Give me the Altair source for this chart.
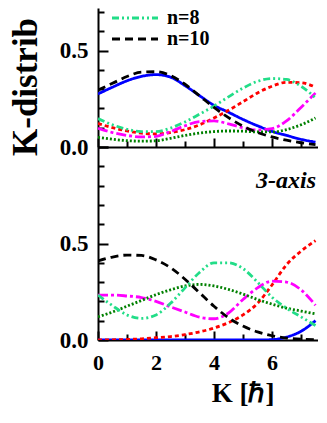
import altair as alt
import pandas as pd

# ---------------- data ----------------
K = [0, 0.5, 1, 1.5, 2, 2.5, 3, 3.5, 4, 4.5, 5, 5.5, 6, 6.5, 7, 7.5, 8]

series_names = ["n=0", "n=2", "n=4", "n=6", "n=8", "n=10"]
series_colors = ["#0000FF", "#FF0000", "#FF00FF", "#008000", "#22DD88", "#000000"]
series_dashes = [[1, 0], [4, 3], [10, 3, 3, 3], [2, 2], [7, 3, 2, 3, 2, 3], [8, 5]]
legend_shown = ["n=8", "n=10"]

# upper panel
top_n0 = [0.275, 0.31, 0.343, 0.366, 0.375, 0.362, 0.318, 0.266, 0.216, 0.18, 0.143, 0.11, 0.081, 0.06, 0.04, 0.025, 0.013]
top_n2 = [0.122, 0.1, 0.083, 0.072, 0.068, 0.075, 0.09, 0.115, 0.15, 0.19, 0.235, 0.28, 0.315, 0.335, 0.333, 0.31, 0.27]
top_n4 = [0.097, 0.075, 0.06, 0.052, 0.055, 0.08, 0.11, 0.132, 0.135, 0.12, 0.1, 0.088, 0.095, 0.135, 0.205, 0.28, 0.33]
top_n6 = [0.05, 0.04, 0.033, 0.03, 0.032, 0.045, 0.06, 0.072, 0.08, 0.083, 0.082, 0.078, 0.078, 0.09, 0.115, 0.15, 0.2]
top_n8 = [0.147, 0.115, 0.092, 0.08, 0.08, 0.098, 0.13, 0.17, 0.212, 0.26, 0.305, 0.34, 0.355, 0.35, 0.315, 0.255, 0.175]
top_n10 = [0.295, 0.33, 0.365, 0.388, 0.39, 0.37, 0.325, 0.265, 0.205, 0.152, 0.108, 0.075, 0.052, 0.035, 0.022, 0.012, 0.006]

# lower panel (3-axis)
bot_n0 = [0, 0, 0, 0, 0, 0, 0, 0, 0, 0, 0, 0, 0.002, 0.015, 0.045, 0.1, 0.22]
bot_n2 = [0.0, 0.001, 0.003, 0.006, 0.012, 0.018, 0.028, 0.042, 0.062, 0.09, 0.13, 0.19, 0.285, 0.39, 0.46, 0.515, 0.54]
bot_n4 = [0.233, 0.233, 0.228, 0.22, 0.2, 0.172, 0.145, 0.118, 0.11, 0.14, 0.21, 0.27, 0.305, 0.3, 0.26, 0.18, 0.11]
bot_n6 = [0.12, 0.145, 0.175, 0.205, 0.235, 0.26, 0.28, 0.288, 0.28, 0.262, 0.238, 0.21, 0.186, 0.165, 0.15, 0.135, 0.125]
bot_n8 = [0.233, 0.178, 0.13, 0.112, 0.13, 0.19, 0.27, 0.35, 0.4, 0.4, 0.37, 0.3, 0.222, 0.165, 0.12, 0.075, 0.04]
bot_n10 = [0.41, 0.43, 0.44, 0.438, 0.415, 0.375, 0.315, 0.245, 0.175, 0.115, 0.072, 0.042, 0.022, 0.01, 0.004, 0.002, 0.001]

y_title = ["K-distribution"]
x_title = ["K [ℏ]"]
panel_label = ["3-axis"]

x_labels = [0, 2, 4, 6]
x_major = [0, 2, 4, 6]
x_minor = [1, 3, 5, 7]
y_labels = [0, 0.5]
y_major_top = [0, 0.5]
y_minor_top = [0.1, 0.2, 0.3, 0.4, 0.6, 0.7]
y_major_bot = [0, 0.5, 1.0]
y_minor_bot = [0.1, 0.2, 0.3, 0.4, 0.6, 0.7, 0.8, 0.9]


def long_df(cols):
    rows = []
    for name, vals in zip(series_names, cols):
        for k, v in zip(K, vals):
            rows.append({"K": k, "value": v, "series": name})
    return pd.DataFrame(rows)


df_top = long_df([top_n0, top_n2, top_n4, top_n6, top_n8, top_n10])
df_bot = long_df([bot_n0, bot_n2, bot_n4, bot_n6, bot_n8, bot_n10])

FONT = "Liberation Serif"
PX_PER_K = 29
PX_PER_UNIT = 193
W = 220
H_TOP = 139
H_BOT = 193
XMAX = W / PX_PER_K
YMAX_TOP = H_TOP / PX_PER_UNIT
LW = 2.8

color_enc = alt.Color("series:N", scale=alt.Scale(domain=series_names, range=series_colors), legend=None)
dash_enc = alt.StrokeDash("series:N", scale=alt.Scale(domain=series_names, range=series_dashes), legend=None)


def panel(df, is_top):
    H = H_TOP if is_top else H_BOT
    base = alt.Chart(df).transform_filter(alt.datum.K <= XMAX)
    xscale = alt.Scale(domain=[0, XMAX], nice=False, zero=False)
    yscale = alt.Scale(domain=[0, YMAX_TOP if is_top else 1.0], nice=False)

    x_axis = alt.Axis(values=x_labels, format="d", ticks=False, tickSize=0, domain=True,
                      domainColor="black", domainWidth=2, grid=False,
                      labels=not is_top, labelFont=FONT, labelFontSize=22, labelFontWeight="bold",
                      labelColor="black", labelPadding=12, labelFlush=False, title=None)
    y_axis = alt.Axis(values=y_labels, format=".1f", ticks=False, tickSize=0, domain=True,
                      domainColor="black", domainWidth=2, grid=False,
                      labelFont=FONT, labelFontSize=23, labelFontWeight="bold",
                      labelColor="black", labelPadding=10, title=None)

    lines = base.mark_line(strokeWidth=LW, interpolate="monotone", clip=True).encode(
        x=alt.X("K:Q", scale=xscale, axis=x_axis),
        y=alt.Y("value:Q", scale=yscale, axis=y_axis),
        color=color_enc,
        strokeDash=dash_enc,
    )

    def tick_axes(xv, yv, xlen, ylen):
        ax_x = alt.Axis(orient="top", offset=-H, values=xv, labels=False, domain=False, grid=False,
                        ticks=True, tickSize=xlen, tickWidth=2, tickColor="black", title=None)
        ax_y = alt.Axis(orient="right", offset=-W, values=yv, labels=False, domain=False, grid=False,
                        ticks=True, tickSize=ylen, tickWidth=2, tickColor="black", title=None)
        return base.mark_line(opacity=0).encode(
            x=alt.X("K:Q", axis=ax_x),
            y=alt.Y("value:Q", scale=yscale, axis=ax_y),
            detail="series:N",
        )

    if is_top:
        layers = [lines,
                  tick_axes(x_major, y_major_top, 9, 10),
                  tick_axes(x_minor, y_minor_top, 6, 6)]
        leg_df = pd.DataFrame({"series": legend_shown})
        leg_y = alt.Y("series:N", scale=alt.Scale(type="point", domain=legend_shown, range=[10, 31], padding=0),
                      axis=None)
        leg_lines = alt.Chart(leg_df).mark_rule(strokeWidth=LW).encode(
            x=alt.value(14), x2=alt.value(60), y=leg_y, color=color_enc, strokeDash=dash_enc)
        leg_text = alt.Chart(leg_df).mark_text(
            font=FONT, fontSize=20, fontWeight="bold", align="left", baseline="middle",
            color="black").encode(x=alt.value(69), y=leg_y, text="series:N")
        ytitle = alt.Chart(pd.DataFrame({"t": y_title})).mark_text(
            font=FONT, fontSize=35, fontWeight="bold", angle=270, align="left",
            baseline="alphabetic", color="black", limit=149, ellipsis=" "
        ).encode(x=alt.value(-61), y=alt.value(148), text="t:N")
        layers += [leg_lines, leg_text, ytitle]
    else:
        layers = [lines,
                  tick_axes(x_major, y_major_bot, 9, 10),
                  tick_axes(x_minor, y_minor_bot, 6, 6)]
        lab = alt.Chart(pd.DataFrame({"label": panel_label})).mark_text(
            font=FONT, fontSize=24, fontWeight="bold", fontStyle="italic",
            align="left", baseline="alphabetic", color="black"
        ).encode(x=alt.value(158), y=alt.value(41), text="label:N")
        xtitle = alt.Chart(pd.DataFrame({"t": x_title})).mark_text(
            font=FONT, fontSize=27, fontWeight="bold", align="center", baseline="top", color="black"
        ).encode(x=alt.value(145), y=alt.value(H + 41), text="t:N")
        layers += [lab, xtitle]

    return alt.layer(*layers).resolve_axis(x="independent", y="independent").resolve_scale(
        y="independent").properties(width=W, height=H)


chart = alt.vconcat(panel(df_top, True), panel(df_bot, False), spacing=0, bounds="flush").configure_view(
    stroke="transparent", strokeWidth=0
).properties(padding=0, background="white")

chart.save("out.html", embed_options={"renderer": "svg", "actions": False})
